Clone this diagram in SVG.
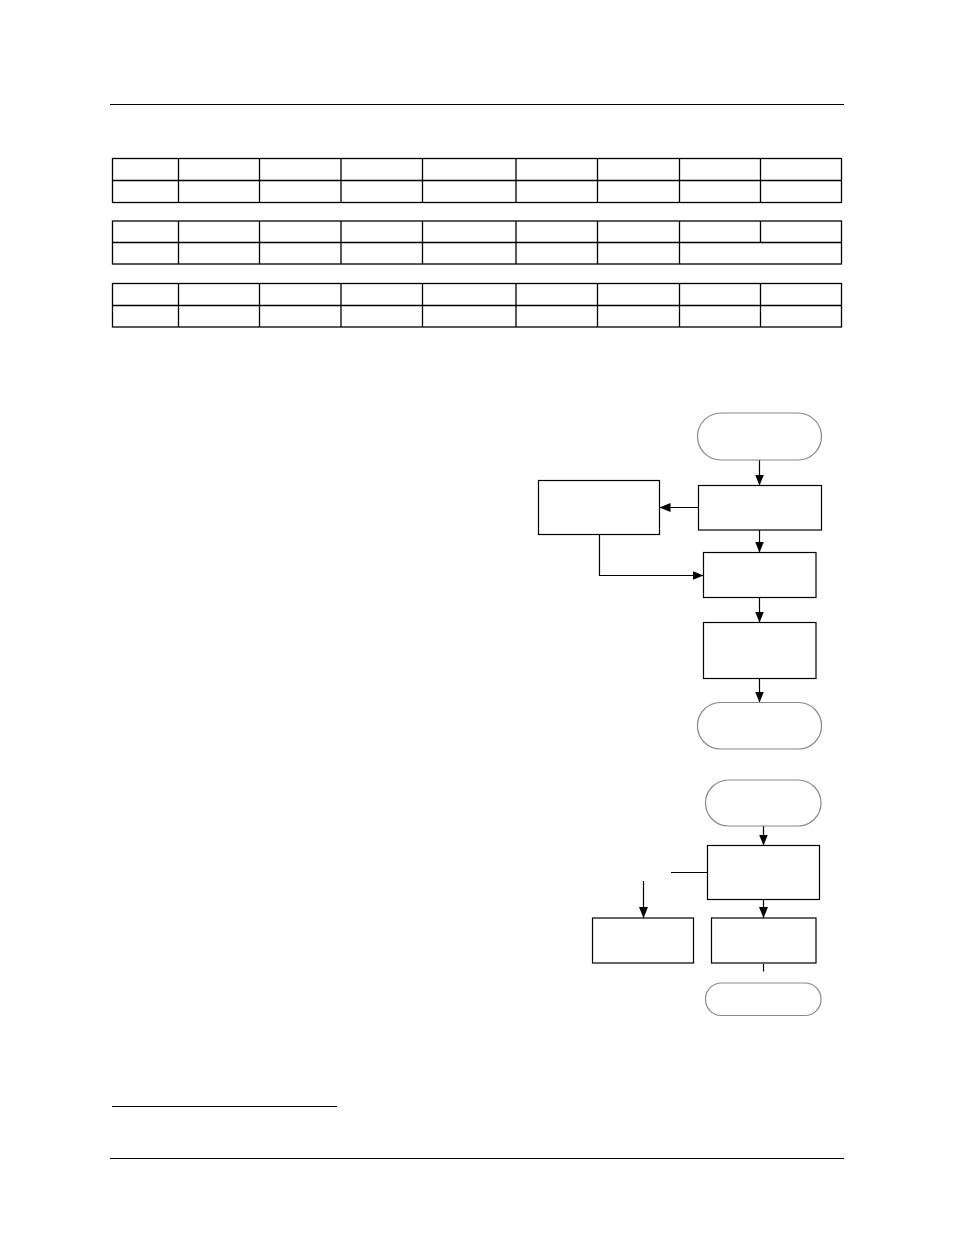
<svg xmlns="http://www.w3.org/2000/svg" width="954" height="1235" viewBox="0 0 954 1235">
<style>
.ln{stroke:#000;stroke-width:1;fill:none}
.tb{stroke:#000;stroke-width:1.3;fill:none}
.box{stroke:#000;stroke-width:1.2;fill:#fff}
.term{stroke:#888;stroke-width:1.2;fill:#fff}
.con{stroke:#000;stroke-width:1.2;fill:none}
</style>
<defs>
<marker id="ar" markerUnits="userSpaceOnUse" markerWidth="11" markerHeight="9" refX="11" refY="4.5" orient="auto" viewBox="0 0 11 9">
<path d="M0,0 L11,4.5 L0,9 z" fill="#000"/>
</marker>
</defs>
<rect width="954" height="1235" fill="#fff"/>
<g id="page-rules">
<line class="ln" x1="110" y1="104.5" x2="844" y2="104.5"/>
<line class="ln" x1="110" y1="1158.5" x2="844" y2="1158.5"/>
<line class="ln" x1="112" y1="1106.5" x2="337" y2="1106.5"/>
</g>
<g id="table1">
<rect class="tb" x="112.5" y="158.5" width="729" height="44"/>
<line class="tb" x1="112.5" y1="180.5" x2="841.5" y2="180.5"/>
<path class="tb" d="M178.5,158.5V202.5M259.5,158.5V202.5M341,158.5V202.5M422.5,158.5V202.5M516,158.5V202.5M597.5,158.5V202.5M679.5,158.5V202.5M760.5,158.5V202.5"/>
</g>
<g id="table2">
<rect class="tb" x="112.5" y="221" width="729" height="43"/>
<line class="tb" x1="112.5" y1="242.5" x2="841.5" y2="242.5"/>
<path class="tb" d="M178.5,221V264M259.5,221V264M341,221V264M422.5,221V264M516,221V264M597.5,221V264M679.5,221V264M760.5,221V242.5"/>
</g>
<g id="table3">
<rect class="tb" x="112.5" y="283.5" width="729" height="43.5"/>
<line class="tb" x1="112.5" y1="305.5" x2="841.5" y2="305.5"/>
<path class="tb" d="M178.5,283.5V327M259.5,283.5V327M341,283.5V327M422.5,283.5V327M516,283.5V327M597.5,283.5V327M679.5,283.5V327M760.5,283.5V327"/>
</g>
<g id="connectors">
<line class="con" x1="759.5" y1="460" x2="759.5" y2="485.5" marker-end="url(#ar)"/>
<line class="con" x1="698" y1="507.5" x2="659.5" y2="507.5" marker-end="url(#ar)"/>
<line class="con" x1="759.5" y1="530" x2="759.5" y2="552.5" marker-end="url(#ar)"/>
<polyline class="con" points="599.5,534.5 599.5,575.5 703.5,575.5" marker-end="url(#ar)"/>
<line class="con" x1="759.5" y1="597.5" x2="759.5" y2="622.5" marker-end="url(#ar)"/>
<line class="con" x1="759.5" y1="678.5" x2="759.5" y2="702.5" marker-end="url(#ar)"/>
<line class="con" x1="763.5" y1="826" x2="763.5" y2="845.5" marker-end="url(#ar)"/>
<line class="con" x1="671" y1="872.5" x2="707.5" y2="872.5"/>
<line class="con" x1="643.5" y1="881" x2="643.5" y2="918" marker-end="url(#ar)"/>
<line class="con" x1="763.5" y1="899.5" x2="763.5" y2="918" marker-end="url(#ar)"/>
<line class="con" x1="763.5" y1="964" x2="763.5" y2="971.5"/>
</g>
<g id="start1"><rect class="term" x="697.5" y="413" width="124" height="47" rx="23.5"/></g>
<g id="box1"><rect class="box" x="698.5" y="485.5" width="123" height="44.5"/></g>
<g id="boxLeft"><rect class="box" x="538.5" y="480.5" width="121" height="54"/></g>
<g id="box2"><rect class="box" x="703.5" y="552.5" width="112.5" height="45"/></g>
<g id="box3"><rect class="box" x="703.5" y="622.5" width="112.5" height="56"/></g>
<g id="end1"><rect class="term" x="697.5" y="702.5" width="124" height="46.5" rx="23"/></g>
<g id="start2"><rect class="term" x="705.5" y="780" width="115.5" height="46" rx="23"/></g>
<g id="box4"><rect class="box" x="707.5" y="845.5" width="112" height="54"/></g>
<g id="box5"><rect class="box" x="592.5" y="918" width="101" height="45"/></g>
<g id="box6"><rect class="box" x="711.5" y="918" width="104.5" height="45"/></g>
<g id="end2"><rect class="term" x="705.5" y="983" width="115.5" height="32.5" rx="16"/></g>
</svg>
